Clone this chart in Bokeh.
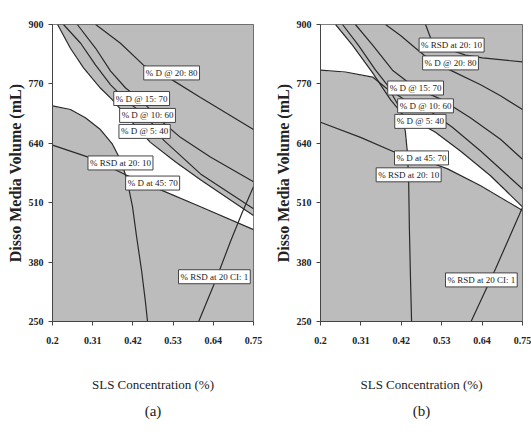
import numpy as np
from bokeh.plotting import figure
from bokeh.models import Label, FixedTicker, Title, Range1d
from bokeh.layouts import row
from bokeh.embed import file_html
from bokeh.resources import INLINE

# ---------------- axes ----------------
x_ticks = [0.2, 0.31, 0.42, 0.53, 0.64, 0.75]
x_tick_labels = ["0.2", "0.31", "0.42", "0.53", "0.64", "0.75"]
y_ticks = [250, 380, 510, 640, 770, 900]
y_tick_labels = ["250", "380", "510", "640", "770", "900"]
x_title = "SLS Concentration (%)"
y_title = "Disso Media Volume (mL)"

# ---------------- panel (a) contour lines ----------------
a_d2080_x = [0.318, 0.386, 0.449, 0.523, 0.605, 0.75]
a_d2080_y = [900, 859, 811, 781, 740, 670]
a_d1570_x = [0.268, 0.318, 0.359, 0.400, 0.444, 0.496, 0.550, 0.632, 0.75]
a_d1570_y = [900, 848, 798, 761, 733, 690, 653, 610, 556]
a_d1060_x = [0.230, 0.277, 0.318, 0.359, 0.408, 0.460, 0.504, 0.605, 0.75]
a_d1060_y = [900, 859, 811, 768, 729, 698, 647, 573, 497]
a_d540_x = [0.214, 0.249, 0.285, 0.331, 0.364, 0.413, 0.468, 0.537, 0.605, 0.687, 0.75]
a_d540_y = [900, 848, 805, 761, 735, 690, 642, 599, 560, 516, 482]
a_d4570_x = [0.2, 0.249, 0.290, 0.331, 0.364, 0.389, 0.405, 0.419, 0.430, 0.444, 0.454, 0.460]
a_d4570_y = [722, 714, 696, 670, 638, 599, 556, 501, 436, 360, 295, 250]
a_rsd2010_x = [0.2, 0.249, 0.304, 0.400, 0.496, 0.605, 0.75]
a_rsd2010_y = [636, 623, 608, 571, 538, 501, 451]
a_rsdci_x = [0.600, 0.646, 0.687, 0.720, 0.75]
a_rsdci_y = [250, 339, 425, 490, 545]

a_label_text = ["% D @ 20: 80", "% D @ 15: 70", "% D @ 10: 60", "% D @ 5: 40",
                "% RSD at 20: 10", "% D at 45: 70", "% RSD at 20 CI: 1"]
a_label_x = [0.526, 0.444, 0.460, 0.452, 0.386, 0.474, 0.643]
a_label_y = [794, 738, 701, 666, 597, 553, 348]

# ---------------- panel (b) contour lines ----------------
b_d2080_x = [0.377, 0.418, 0.459, 0.505, 0.559, 0.636, 0.690, 0.75]
b_d2080_y = [900, 876, 848, 818, 798, 768, 744, 714]
b_rsdtop_x = [0.486, 0.500, 0.540, 0.595, 0.641, 0.75]
b_rsdtop_y = [900, 870, 848, 833, 827, 818]
b_d1570_x = [0.295, 0.342, 0.396, 0.459, 0.532, 0.608, 0.690, 0.75]
b_d1570_y = [900, 855, 800, 761, 735, 696, 649, 605]
b_d1060_x = [0.260, 0.303, 0.350, 0.396, 0.445, 0.500, 0.559, 0.636, 0.75]
b_d1060_y = [900, 855, 800, 753, 727, 709, 675, 623, 540]
b_d540_x = [0.241, 0.287, 0.342, 0.391, 0.431, 0.472, 0.513, 0.581, 0.663, 0.75]
b_d540_y = [900, 855, 794, 735, 696, 683, 664, 623, 569, 501]
b_rsd2010_x = [0.2, 0.268, 0.342, 0.391, 0.418, 0.431, 0.437, 0.440, 0.442, 0.445, 0.448]
b_rsd2010_y = [800, 796, 785, 753, 714, 666, 616, 558, 454, 345, 250]
b_d4570_x = [0.2, 0.309, 0.404, 0.475, 0.546, 0.636, 0.75]
b_d4570_y = [686, 653, 620, 605, 584, 547, 493]
b_rsdci_x = [0.610, 0.677, 0.741, 0.75]
b_rsdci_y = [250, 366, 483, 500]

b_label_text = ["% RSD at 20: 10", "% D @ 20: 80", "% D @ 15: 70", "% D @ 10: 60",
                "% D @ 5: 40", "% D at 45: 70", "% RSD at 20: 10", "% RSD at 20 CI: 1"]
b_label_x = [0.557, 0.554, 0.459, 0.486, 0.472, 0.475, 0.440, 0.638]
b_label_y = [855, 816, 761, 722, 688, 608, 571, 341]

GRAY = "#bcbcbc"
LINE = "#2a2a2a"
FONT = "Liberation Serif"


def make_fig(width, left, right, top, bottom, caption):
    p = figure(width=width, height=432, output_backend="svg", toolbar_location=None,
               x_range=Range1d(0.2, 0.75), y_range=Range1d(250, 900),
               min_border_left=left, min_border_right=right,
               min_border_top=top, min_border_bottom=bottom)
    p.background_fill_color = GRAY
    p.border_fill_color = "white"
    p.outline_line_color = "#555555"
    p.grid.visible = False
    p.xaxis.ticker = FixedTicker(ticks=x_ticks)
    p.yaxis.ticker = FixedTicker(ticks=y_ticks)
    p.xaxis.major_label_overrides = dict(zip(x_ticks, x_tick_labels))
    p.yaxis.major_label_overrides = dict(zip(y_ticks, y_tick_labels))
    for ax in (p.xaxis[0], p.yaxis[0]):
        ax.minor_tick_line_color = None
        ax.major_tick_out = 4
        ax.major_tick_in = 0
        ax.axis_line_color = "#444444"
        ax.major_tick_line_color = "#444444"
        ax.major_label_text_font = FONT
        ax.major_label_text_font_style = "bold"
        ax.major_label_text_font_size = "10px"
        ax.major_label_text_color = "#222222"
        ax.axis_label_text_font = FONT
        ax.axis_label_text_color = "#222222"
    p.xaxis.axis_label = x_title
    p.xaxis.axis_label_text_font = FONT
    p.xaxis.axis_label_text_font_size = "13px"
    p.xaxis.axis_label_text_font_style = "normal"
    p.xaxis.major_label_standoff = 11
    p.xaxis.axis_label_standoff = 30
    p.yaxis.axis_label = y_title
    p.yaxis.axis_label_text_font_size = "16px"
    p.yaxis.axis_label_text_font_style = "bold"
    p.yaxis.major_label_standoff = 5
    p.yaxis.axis_label_standoff = 2
    p.add_layout(Title(text=caption, align="center", text_font=FONT,
                       text_font_size="15px", text_font_style="normal",
                       text_color="#222222", standoff=12), "below")
    return p


def add_white(p, mask):
    p.image(image=[mask.astype(float)], x=0.2, y=250, dw=0.55, dh=650,
            palette=[GRAY, "#ffffff"])


def add_labels(p, texts, xs, ys):
    for t, x, y in zip(texts, xs, ys):
        p.add_layout(Label(x=x, y=y, text=t, text_font=FONT, text_font_size="9px",
                           text_align="center", text_baseline="middle",
                           text_color="#222222",
                           background_fill_color="white",
                           border_line_color="#444444", border_line_width=1,
                           padding=2))


gx = np.linspace(0.2, 0.75, 440)
gy = np.linspace(250, 900, 650)
X, Y = np.meshgrid(gx, gy)

# ---- panel (a)
pa = make_fig(265, 52, 12, 21, 111, "(a)")
wa = (Y < np.interp(X, a_d540_x, a_d540_y)) & \
     (Y > np.interp(X, a_rsd2010_x, a_rsd2010_y)) & \
     (Y > np.interp(X, a_d4570_x, a_d4570_y, right=-1e9))
add_white(pa, wa)
for xs, ys in [(a_d2080_x, a_d2080_y), (a_d1570_x, a_d1570_y), (a_d1060_x, a_d1060_y),
               (a_d540_x, a_d540_y), (a_d4570_x, a_d4570_y), (a_rsd2010_x, a_rsd2010_y),
               (a_rsdci_x, a_rsdci_y)]:
    pa.line(xs, ys, line_color=LINE, line_width=1.2)
add_labels(pa, a_label_text, a_label_x, a_label_y)

# ---- panel (b)
pb = make_fig(266, 55, 9, 24, 108, "(b)")
wb = (Y < np.interp(X, b_d540_x, b_d540_y)) & \
     (Y > np.interp(X, b_rsd2010_x, b_rsd2010_y, right=-1e9)) & \
     (Y > np.interp(X, b_d4570_x, b_d4570_y))
add_white(pb, wb)
for xs, ys in [(b_d2080_x, b_d2080_y), (b_rsdtop_x, b_rsdtop_y), (b_d1570_x, b_d1570_y),
               (b_d1060_x, b_d1060_y), (b_d540_x, b_d540_y), (b_rsd2010_x, b_rsd2010_y),
               (b_d4570_x, b_d4570_y), (b_rsdci_x, b_rsdci_y)]:
    pb.line(xs, ys, line_color=LINE, line_width=1.2)
add_labels(pb, b_label_text, b_label_x, b_label_y)

layout = row(pa, pb)
open("out.html", "w").write(file_html(layout, INLINE))
